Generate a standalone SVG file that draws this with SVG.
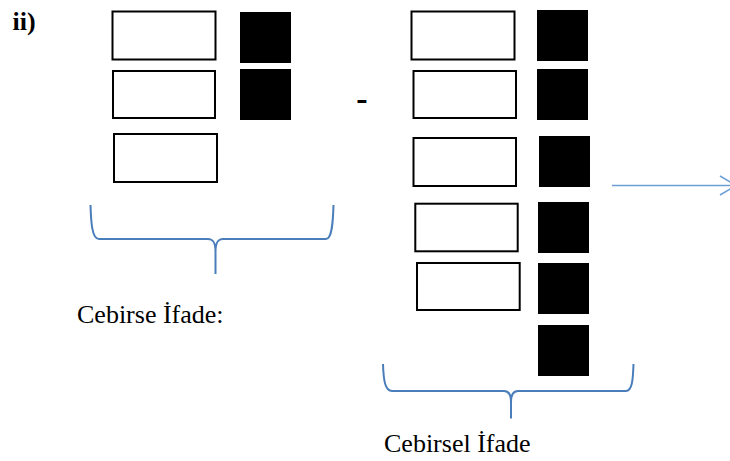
<svg xmlns="http://www.w3.org/2000/svg" width="730" height="461" viewBox="0 0 730 461">
<style>
.w{fill:#fff;stroke:#000;stroke-width:2}
.b{fill:#000}
.t{font-family:"Liberation Serif","Times New Roman",serif;font-size:26px;fill:#000}
.bold{font-weight:bold}
.brace{fill:none;stroke:#4A7EBB;stroke-width:2;stroke-linejoin:round}
.arrow{fill:none;stroke:#6C9FD6;stroke-width:1.5}
</style>
<defs>
<marker id="chev" markerUnits="userSpaceOnUse" markerWidth="20" markerHeight="24" refX="18" refY="11" orient="auto" overflow="visible">
<path d="M2,1.5 L18,11 L2,20.5" fill="none" stroke="#6C9FD6" stroke-width="1.5"/>
</marker>
</defs>
<rect width="730" height="461" fill="#fff"/>
<g id="label-ii"><text class="t bold" x="12.5" y="30">ii)</text></g>
<g id="minus"><text class="t bold" x="362" y="110" text-anchor="middle" style="font-size:34px">-</text></g>
<g id="left-group">
<rect id="L1" class="w" x="112.5" y="11.5" width="103" height="48"/>
<rect id="LB1" class="b" x="240" y="12" width="51" height="51"/>
<rect id="L2" class="w" x="113" y="71" width="102" height="47"/>
<rect id="LB2" class="b" x="240" y="69" width="51" height="51"/>
<rect id="L3" class="w" x="114" y="134" width="103" height="48"/>
</g>
<g id="right-group">
<rect id="R1" class="w" x="411.5" y="11.5" width="103" height="48"/>
<rect id="RB1" class="b" x="537" y="10" width="51" height="51"/>
<rect id="R2" class="w" x="413.5" y="71" width="102.5" height="47"/>
<rect id="RB2" class="b" x="537" y="69" width="51" height="51"/>
<rect id="R3" class="w" x="413.5" y="138" width="102.5" height="48"/>
<rect id="RB3" class="b" x="539" y="136" width="51" height="51"/>
<rect id="R4" class="w" x="415.3" y="203.7" width="102.4" height="47.6"/>
<rect id="RB4" class="b" x="538" y="202" width="51" height="51"/>
<rect id="R5" class="w" x="417" y="263" width="102.7" height="47"/>
<rect id="RB5" class="b" x="538" y="263" width="51" height="51"/>
<rect id="RB6" class="b" x="538" y="325" width="51" height="51"/>
</g>
<g id="connectors">
<path id="brace-left" class="brace" d="M90.5,205 C91,222 92,239 99,239 L208,239 C213,239 215.5,242 215.5,252 L215.5,274 M215.5,252 C215.5,242 218,239 223,239 L326,239 C332,239 333,222 333.5,205"/>
<path id="brace-right" class="brace" d="M383,364 C383.5,380 385,391 392,391 L504,391 C509,391 511,395 511,402 L511,418.5 M511,402 C511,395 513,391 518,391 L626,391 C632,391 633,380 633.5,364"/>
<line id="arrow" class="arrow" x1="612" y1="185.5" x2="736" y2="185.5" marker-end="url(#chev)"/>
</g>
<g id="label-left"><text class="t" x="77" y="323">Cebirse İfade:</text></g>
<g id="label-right"><text class="t" x="384" y="452">Cebirsel İfade</text></g>
</svg>
